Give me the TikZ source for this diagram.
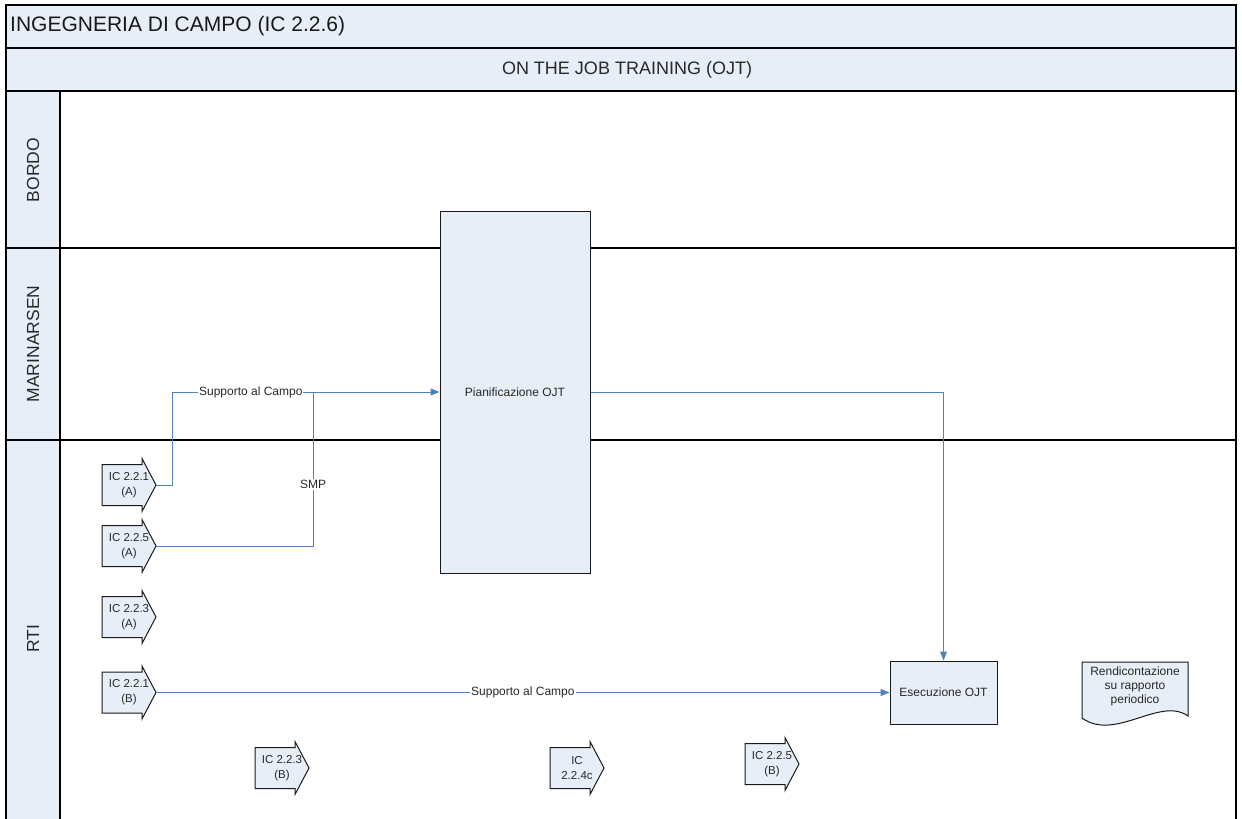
\documentclass[tikz,border=0pt]{standalone}
\usepackage{fontspec}
\setmainfont{Liberation Sans}
\usepackage{xcolor}
\usepackage{tikz}
\usetikzlibrary{shapes,arrows.meta}
\usetikzlibrary{positioning}
\definecolor{lanefill}{RGB}{232,238,247}
\definecolor{flowblue}{RGB}{79,129,189}
\definecolor{inkgray}{RGB}{40,40,40}
\tikzstyle{frame} = [draw=black, line width=1.1]
\tikzstyle{shapeline} = [draw=black!90, line width=1]
\tikzstyle{lanetxt} = [text=inkgray, font=\fontsize{17.5}{20}\selectfont, inner sep=0]
\tikzstyle{task} = [rectangle, shapeline, fill=lanefill, text=inkgray,
    font=\fontsize{12}{14}\selectfont, inner sep=0]
\tikzstyle{offpage} = [rectangle, minimum width=54, minimum height=41,
    inner sep=0, align=center, text=inkgray, font=\fontsize{11.5}{15}\selectfont]
\tikzstyle{doc} = [align=center, inner sep=0, text=inkgray,
    font=\fontsize{12}{14}\selectfont]
\tikzstyle{lbl} = [fill=white, inner sep=1, text=inkgray,
    font=\fontsize{12}{14}\selectfont]
\tikzstyle{flow} = [draw=flowblue, line width=1]
\tikzstyle{flowline} = [flow, -{Triangle[length=9,width=7]}]
% off-page connector: outline, then the named node on top
\newcommand{\offpage}[4]{%
  \filldraw[shapeline, fill=lanefill] (#2,#3) ++(-27,-20.5) -- ++(40,0)
    -- ++(0,-6) -- ++(14,26.5) -- ++(-14,26.5) -- ++(0,-6) -- ++(-40,0) -- cycle;
  \node[offpage] (#1) at (#2,#3) {#4};}

\begin{document}
\begin{tikzpicture}[x=1pt, y=-1pt]
  \useasboundingbox (0,0) rectangle (1242,819);
  \clip (0,0) rectangle (1242,819);
  % Pool and lanes
  \fill[lanefill] (6,5) rectangle (1236,91);
  \fill[lanefill] (6,91) rectangle (60,840);
  \draw[frame] (6,5) rectangle (1236,840);
  \draw[frame] (6,48) -- (1236,48);
  \draw[frame] (6,91) -- (1236,91);
  \draw[frame] (60,91) -- (60,840);
  \draw[frame] (6,248) -- (1236,248);
  \draw[frame] (6,440) -- (1236,440);
  \node[anchor=west, text=black!90, font=\fontsize{21}{25}\selectfont, inner sep=0]
    (pool) at (10,26.5) {INGEGNERIA DI CAMPO (IC 2.2.6)};
  \node[text=inkgray, font=\fontsize{18}{21}\selectfont, inner sep=0]
    (phase) at (627,69.5) {ON THE JOB TRAINING (OJT)};
  \node[lanetxt, rotate=90] (bordo) at (33,170) {BORDO};
  \node[lanetxt, rotate=90] (marinarsen) at (33,344) {MARINARSEN};
  \node[lanetxt, rotate=90] (rti) at (33,639) {RTI};

  % Place nodes
  \node[task, minimum width=150, minimum height=362] (pian) at (515,392) {Pianificazione OJT};
  \node[task, minimum width=107, minimum height=63] (esec) at (943.5,692.5) {Esecuzione OJT};
  \offpage{ic221a}{129}{485}{IC 2.2.1\\(A)}
  \offpage{ic225a}{129}{546}{IC 2.2.5\\(A)}
  \offpage{ic223a}{129}{617}{IC 2.2.3\\(A)}
  \offpage{ic221b}{129}{692.5}{IC 2.2.1\\(B)}
  \offpage{ic223b}{282}{768}{IC 2.2.3\\(B)}
  \offpage{ic224c}{577}{768}{IC\\2.2.4c}
  \offpage{ic225b}{772}{764}{IC 2.2.5\\(B)}
  \filldraw[shapeline, fill=lanefill] (1082,718) -- (1082,662) -- (1188,662) -- (1188,716)
    .. controls (1160,696) and (1115,742) .. (1082,718) -- cycle;
  \node[doc] (rend) at (1135,686) {Rendicontazione\\su rapporto\\periodico};
  \coordinate (smpjoin) at (313,392);

  % Draw edges
  \path[flowline] (ic221a.east) -- ++(16,0) |- node[lbl, pos=0.647] {Supporto al Campo} (pian.west);
  \path[flow] (ic225a.east) -| node[lbl, pos=0.7] {SMP} (smpjoin);
  \path[flowline] (pian.east) -| (esec.north);
  \path[flowline] (ic221b.east) -- node[lbl, pos=0.5] {Supporto al Campo} (esec.west);
\end{tikzpicture}
\end{document}
